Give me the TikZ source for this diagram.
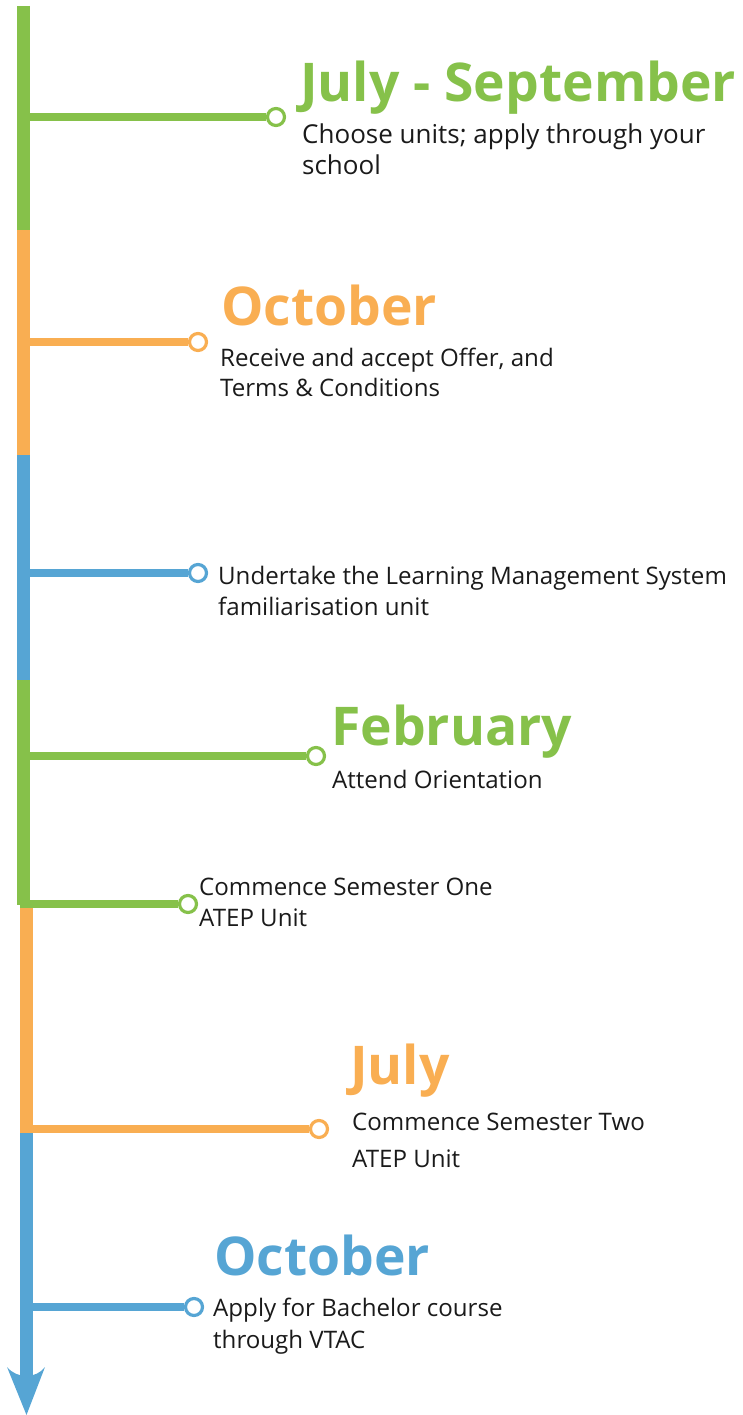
\documentclass[tikz,border=0pt]{standalone}
\usepackage{fontspec}
\setmainfont{Open Sans}
\definecolor{tlgreen}{RGB}{134,193,74}
\definecolor{tlorange}{RGB}{249,174,82}
\definecolor{tlblue}{RGB}{86,165,212}
\definecolor{textdark}{RGB}{26,26,26}
\begin{document}
\begin{tikzpicture}[x=1pt,y=-1pt,
  bar/.style={line width=13pt},
  branch/.style={line width=7.5pt},
  dot/.style={circle, draw=#1, fill=white, line width=3.2pt, minimum size=17pt, inner sep=0pt},
  title/.style={anchor=base west, inner sep=0pt, font=\fontsize{53.4}{60}\selectfont\bfseries},
  body/.style={anchor=base west, align=left, inner sep=0pt, text=textdark, font=\fontsize{24.1}{#1}\selectfont},
  body/.default=31]
\useasboundingbox (0,0) rectangle (742,1415);
% vertical bar
\draw[bar, tlgreen]  (23.5,6)   -- (23.5,230);
\draw[bar, tlorange] (23.5,230) -- (23.5,455);
\draw[bar, tlblue]   (23.5,455) -- (23.5,680);
\draw[bar, tlgreen]  (23.5,680) -- (23.5,905);
\draw[bar, tlorange] (26,905)   -- (26,1132);
\draw[bar, tlblue]   (26.5,1132) -- (26.5,1378);
\fill[tlblue] (7,1367) -- (26.5,1415) -- (45,1367) .. controls (36,1379) and (17,1379) .. (7,1367) -- cycle;
% anchor points on the bar
\coordinate (b1) at (23.5,117);
\coordinate (b2) at (23.5,342);
\coordinate (b3) at (23.5,573);
\coordinate (b4) at (23.5,756);
\coordinate (b5) at (20,904);
\coordinate (b6) at (20,1129);
\coordinate (b7) at (26.5,1307);
% dots
\node[dot=tlgreen]  (c1) at (276,117) {};
\node[dot=tlorange] (c2) at (198,342) {};
\node[dot=tlblue]   (c3) at (198,573) {};
\node[dot=tlgreen]  (c4) at (316,756) {};
\node[dot=tlgreen]  (c5) at (188,904) {};
\node[dot=tlorange] (c6) at (319,1129) {};
\node[dot=tlblue]   (c7) at (194,1307) {};
% branches
\draw[branch, tlgreen]  (b1) -- (c1);
\draw[branch, tlorange] (b2) -- (c2);
\draw[branch, tlblue]   (b3) -- (c3);
\draw[branch, tlgreen]  (b4) -- (c4);
\draw[branch, tlgreen]  (b5) -- (c5);
\draw[branch, tlorange] (b6) -- (c6);
\draw[branch, tlblue]   (b7) -- (c7);
% texts (multi-line nodes are anchored at the baseline of their last line)
\node[title, text=tlgreen] (t1) at (300,102) {July - September};
\node[body, font=\fontsize{26}{31}\selectfont] (d1) at (302,175) {Choose units; apply through your\\school};
\node[title, text=tlorange] (t2) at (221,325) {October};
\node[body=30] (d2) at (220,396) {Receive and accept Offer, and\\Terms \& Conditions};
\node[body] (d3) at (218,615) {Undertake the Learning Management System\\familiarisation unit};
\node[title, text=tlgreen] (t4) at (331,745) {February};
\node[body] (d4) at (332,788) {Attend Orientation};
\node[body] (d5) at (199,926) {Commence Semester One\\ATEP Unit};
\node[title, text=tlorange] (t6) at (350,1084) {July};
\node[body=37] (d6) at (352,1167) {Commence Semester Two\\ATEP Unit};
\node[title, text=tlblue] (t7) at (214,1275) {October};
\node[body=32] (d7) at (213,1348) {Apply for Bachelor course\\through VTAC};
\end{tikzpicture}
\end{document}
